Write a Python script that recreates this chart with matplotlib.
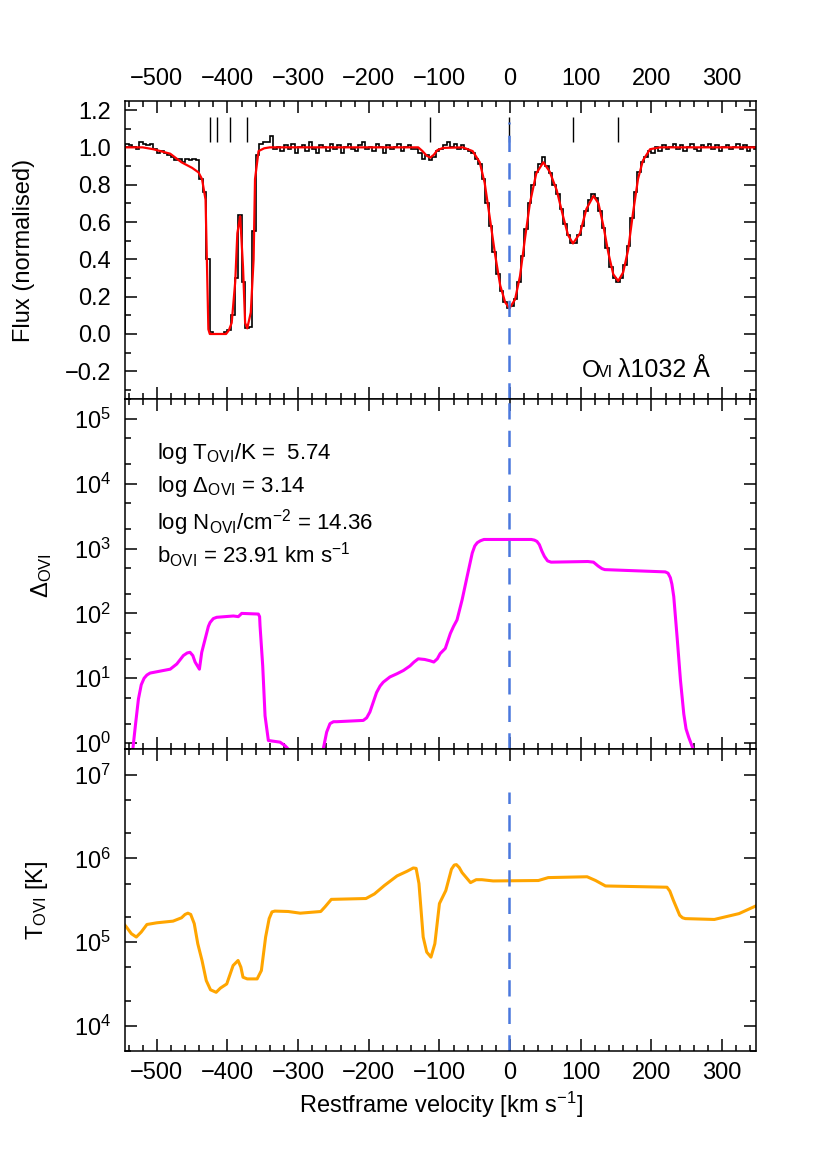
import numpy as np
import matplotlib.pyplot as plt
from matplotlib.ticker import MultipleLocator, LogLocator, NullFormatter

plt.rcParams['font.family'] = ['Liberation Sans', 'DejaVu Sans']
plt.rcParams['mathtext.fontset'] = 'custom'
plt.rcParams['mathtext.rm'] = 'Liberation Sans'
plt.rcParams['mathtext.it'] = 'Liberation Sans:italic'
plt.rcParams['mathtext.bf'] = 'Liberation Sans:bold'

# --- observed flux (5 km/s bins from -545 to 350) ---
bin_edges = np.arange(-545, 351, 5)
flux_obs = [
    1.02, 1.01, 1.00, 0.99, 1.03, 1.02, 1.01, 1.02, 0.99, 0.97,
    0.98, 0.97, 0.96, 0.95, 0.93, 0.94, 0.92, 0.94, 0.93, 0.94,
    0.93, 0.83, 0.76, 0.40, 0.01, 0.00, 0.00, 0.00, 0.01, 0.02,
    0.10, 0.30, 0.64, 0.28, 0.03, 0.04, 0.55, 0.96, 1.02, 1.03,
    1.03, 1.06,
    0.99, 1.00, 0.98, 1.01, 0.99, 1.02, 0.97, 1.00, 1.01, 0.98,
    1.03, 0.99, 0.97, 1.01, 1.00, 0.98, 1.02, 0.99, 1.01, 0.97,
    1.00, 1.02, 0.99, 0.98, 1.01, 1.03, 0.99, 1.00, 0.98, 1.02,
    1.00, 0.97, 1.01, 0.99, 1.00, 1.02, 0.98, 1.00, 1.01, 0.99,
    0.99, 0.97, 0.94, 0.96, 0.93, 0.95, 0.98, 0.99, 1.01, 1.03,
    1.00, 1.02, 0.99, 1.01, 0.99, 0.98, 0.97, 0.94, 0.91, 0.83,
    0.70, 0.58, 0.44, 0.32, 0.23, 0.17, 0.14, 0.15, 0.19, 0.28,
    0.42, 0.56, 0.70, 0.80, 0.87, 0.91, 0.95, 0.90, 0.86, 0.80,
    0.75, 0.67, 0.59, 0.53, 0.49, 0.49, 0.53, 0.58, 0.66, 0.72,
    0.75, 0.73, 0.66, 0.57, 0.46, 0.36, 0.30, 0.28, 0.30, 0.37,
    0.47, 0.62, 0.76, 0.87, 0.92, 0.95, 0.98, 0.97, 1.00, 0.98,
    1.01, 0.99, 1.00, 1.02, 0.99, 1.01, 0.98, 1.00, 1.02, 0.99,
    0.98, 1.01, 1.00, 1.02, 0.99, 1.01, 0.98, 1.00, 1.01, 0.99,
    1.00, 1.02, 0.99, 1.01, 0.98, 1.00, 0.99,
]

# --- model fit ---
v_model = [-545, -520, -505, -490, -481, -465, -450, -441, -436, -431, -427, -425,
           -402, -398, -394, -389, -386, -382, -378, -375, -372, -367, -363, -361,
           -356, -348, -340, -130, -124, -118, -113, -108, -103, -95, -67, -53,
           -43, -36, -29, -21, -14, -7, -1, 7, 14, 21, 28, 37, 47, 56, 66, 75, 82,
           89, 99, 108, 118, 125, 132, 139, 146, 153, 160, 167, 174, 181, 188,
           198, 212, 350]
flux_model = [1.00, 1.00, 0.99, 0.975, 0.966, 0.92, 0.89, 0.866, 0.83, 0.72, 0.025, 0.0,
              0.0, 0.02, 0.06, 0.28, 0.54, 0.63, 0.36, 0.06, 0.03, 0.115, 0.40, 0.83,
              0.98, 0.995, 1.0, 1.0, 0.98, 0.955, 0.945, 0.96, 0.985, 0.997, 1.0, 0.98,
              0.92, 0.81, 0.63, 0.42, 0.26, 0.17, 0.137, 0.185, 0.31, 0.51, 0.70, 0.86,
              0.92, 0.87, 0.77, 0.63, 0.53, 0.485, 0.54, 0.67, 0.74, 0.70, 0.58, 0.435,
              0.32, 0.284, 0.33, 0.45, 0.65, 0.83, 0.93, 0.99, 1.0, 1.0]

# component positions
v_comp = [-425, -415, -397, -373, -113, -1, 89, 153]

# --- overdensity ---
v_delta = [-545, -534, -530, -526, -522, -518, -514, -509.5, -481, -471.7, -462.4,
           -457, -453, -449, -445.8, -439.7, -436.4, -431.7, -427, -424.6, -420,
           -415.2, -391.6, -384.6, -379.8, -356.3, -354.5, -353.9, -350.1, -346.8,
           -342.1, -325.6, -318.5, -311.5, -300, -275, -265, -259.6, -254.9, -250,
           -245.4, -207.8, -203, -198.4, -189, -184, -179.5, -170.1, -160, -151,
           -141.7, -136, -130, -121, -113.4, -108, -103, -99, -91.7, -84.6, -80,
           -75.1, -67.9, -60.8, -53.6, -50, -46.5, -42, -37, 30, 34.4, 38, 41.4,
           45, 48.5, 53, 58, 110, 118, 124.6, 130, 134, 219.6, 223.5, 226.8, 229,
           231.6, 236.3, 241.1, 245.8, 249, 252.8, 260, 270, 350]
log_delta = [-0.5, -0.1, 0.30, 0.68, 0.90, 1.00, 1.05, 1.08, 1.14, 1.22, 1.35,
             1.39, 1.40, 1.35, 1.25, 1.14, 1.40, 1.60, 1.80, 1.86, 1.92,
             1.94, 1.96, 1.95, 2.00, 1.99, 1.95, 1.81, 1.19, 0.42,
             0.04, 0.015, -0.04, -0.12, -0.5, -0.5, -0.12, 0.17, 0.30, 0.33,
             0.33, 0.35, 0.39, 0.48, 0.78, 0.88, 0.94, 1.02, 1.07, 1.12,
             1.19, 1.25, 1.30, 1.29, 1.27, 1.25, 1.30, 1.38, 1.46, 1.69, 1.80,
             1.90, 2.21, 2.57, 2.93, 3.04, 3.09, 3.12, 3.14, 3.14, 3.13, 3.11, 3.06,
             2.96, 2.88, 2.81, 2.79, 2.80, 2.79, 2.73, 2.69, 2.675, 2.64, 2.62, 2.55, 2.45,
             2.26, 1.64, 0.97, 0.45, 0.22, 0.09, -0.12, -0.5, -0.5]

# --- temperature ---
v_temp = [-545, -543, -536, -529, -522, -514, -500, -477, -465, -460, -456, -452,
          -447, -442, -436, -430, -424, -416, -410, -401, -392, -385, -381, -378,
          -372, -358, -352, -346, -341, -337, -333, -314, -297, -268, -262, -253,
          -204, -192, -178, -160, -146, -137, -133, -129, -123, -118, -112, -106.5,
          -100, -91, -83, -79, -76, -72, -68, -56, -48, -40, -24, 40, 54, 109,
          121, 135, 222, 226, 231, 240, 244, 248, 289, 324, 350]
log_temp = [5.20, 5.18, 5.10, 5.06, 5.12, 5.21, 5.23, 5.25, 5.29, 5.33, 5.345, 5.33,
            5.22, 4.98, 4.78, 4.54, 4.43, 4.40, 4.45, 4.50, 4.72, 4.78, 4.70, 4.58,
            4.56, 4.56, 4.66, 5.06, 5.28, 5.36, 5.37, 5.365, 5.345, 5.365, 5.42, 5.51,
            5.52, 5.575, 5.675, 5.79, 5.845, 5.885, 5.88, 5.70, 5.06, 4.88, 4.82, 4.98,
            5.46, 5.615, 5.87, 5.92, 5.925, 5.89, 5.83, 5.71, 5.745, 5.745, 5.73, 5.735,
            5.77, 5.78, 5.735, 5.67, 5.655, 5.61, 5.50, 5.32, 5.29, 5.28, 5.27, 5.34, 5.44]

v_zero = -1.5

FS = 17
W, H = 827, 1170
fig = plt.figure(figsize=(W / 100, H / 100), dpi=100)
left, width = 125 / W, 631 / W
ax1 = fig.add_axes([left, 1 - 399.3 / H, width, 298.6 / H])
ax2 = fig.add_axes([left, 1 - 749.4 / H, width, 350.1 / H])
ax3 = fig.add_axes([left, 1 - 1051 / H, width, 301.6 / H])

blue = '#4a78dd'
dash = (6.5, 4.5)

ax1.stairs(flux_obs, bin_edges, color='black', lw=1.2)
ax1.plot(v_model, flux_model, color='red', lw=1.6, solid_joinstyle='round')
ax1.vlines(v_comp, 1.03, 1.16, color='black', lw=1.0)
ax1.axvline(v_zero, ymax=0.93, color=blue, lw=1.8, dashes=dash)
ax1.set_ylim(-0.35, 1.25)
ax1.yaxis.set_major_locator(MultipleLocator(0.2))
ax1.yaxis.set_minor_locator(MultipleLocator(0.1))
ax1.text(0.7234, 0.0757, 'O', transform=ax1.transAxes, fontsize=FS, va='baseline')
ax1.text(0.749, 0.0757, 'VI', transform=ax1.transAxes, fontsize=11.5, va='baseline')
ax1.text(0.7817, 0.0757, 'λ1032 Å', transform=ax1.transAxes, fontsize=18, va='baseline')

ax2.plot(v_delta, 10 ** np.array(log_delta), color='#ff00ff', lw=2.2,
         solid_joinstyle='round')
ax2.axvline(v_zero, color=blue, lw=1.8, dashes=dash)
ax2.set_yscale('log')
ax2.set_ylim(0.8, 2e5)
notes = [r'log T$_{\mathrm{OVI}}$/K =  5.74',
         r'log Δ$_{\mathrm{OVI}}$ = 3.14',
         r'log N$_{\mathrm{OVI}}$/cm$^{-2}$ = 14.36',
         r'b$_{\mathrm{OVI}}$ = 23.91 km s$^{-1}$']
for txt, yy in zip(notes, [0.830, 0.735, 0.627, 0.533]):
    ax2.text(0.0502, yy, txt, transform=ax2.transAxes, fontsize=16, va='baseline')

ax3.plot(v_temp, 10 ** np.array(log_temp), color='orange', lw=2.2,
         solid_joinstyle='round')
ax3.axvline(v_zero, ymax=0.86, color=blue, lw=1.8, dashes=dash)
ax3.set_yscale('log')
ax3.set_ylim(5e3, 2e7)

for ax in (ax1, ax2, ax3):
    ax.set_xlim(-545, 348)
    ax.xaxis.set_major_locator(MultipleLocator(100))
    ax.xaxis.set_minor_locator(MultipleLocator(20))
    ax.tick_params(which='both', direction='in', top=True, right=True,
                   width=1.1, labelsize=FS, labelbottom=False)
    ax.tick_params(which='major', length=8.5, pad=8)
    ax.tick_params(which='minor', length=4.3)
    ax.tick_params(axis='y', which='major', pad=10)
    for s in ax.spines.values():
        s.set_linewidth(1.1)
for ax in (ax2, ax3):
    ax.yaxis.set_major_locator(LogLocator(base=10, numticks=20))
    ax.yaxis.set_minor_locator(LogLocator(base=10, subs=(2, 5), numticks=20))
    ax.yaxis.set_minor_formatter(NullFormatter())

ax1.tick_params(labeltop=True)
ax3.tick_params(labelbottom=True)

fig.text(24 / W, 1 - 250 / H, 'Flux (normalised)', rotation=90, ha='center', va='center', fontsize=FS)
fig.text(42 / W, 1 - 576 / H, r'Δ$_{\mathrm{OVI}}$', rotation=90, ha='center', va='center', fontsize=FS)
fig.text(37 / W, 1 - 900 / H, r'T$_{\mathrm{OVI}}$ [K]', rotation=90, ha='center', va='center', fontsize=FS)
fig.text(440.5 / W, 1 - 1113 / H, r'Restframe velocity [km s$^{-1}$]', ha='center', va='baseline', fontsize=FS)

fig.savefig('out.png', dpi=100)
